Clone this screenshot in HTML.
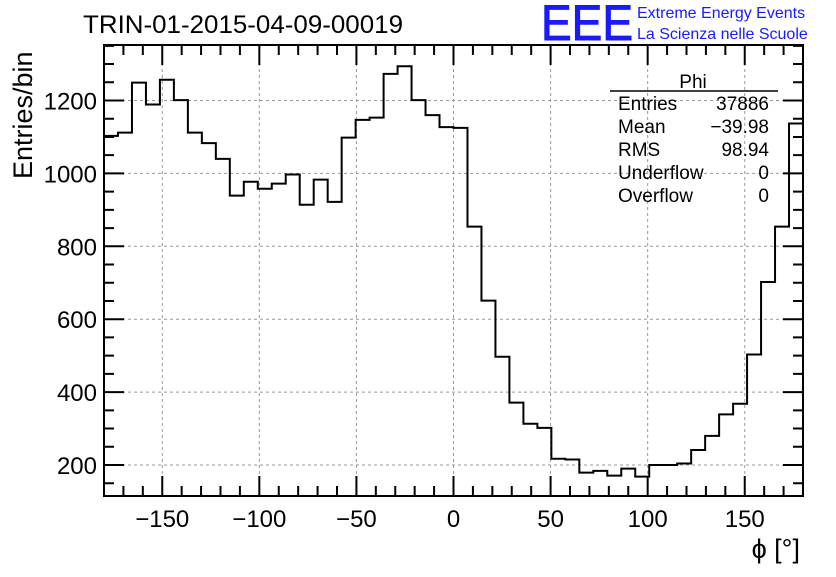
<!DOCTYPE html>
<html><head><meta charset="utf-8"><style>
body{margin:0;background:#fff;}
svg text{font-family:"Liberation Sans",sans-serif;}
</style></head><body>
<svg id="c" width="836" height="572" xmlns="http://www.w3.org/2000/svg">
<rect width="836" height="572" fill="#fff"/>
<text x="83" y="33" font-size="25" textLength="320" lengthAdjust="spacingAndGlyphs">TRIN-01-2015-04-09-00019</text>
<text x="541" y="40" font-size="50" fill="#1a1aff" stroke="#1a1aff" stroke-width="1" textLength="92" lengthAdjust="spacingAndGlyphs">EEE</text>
<text x="637" y="18" font-size="16" fill="#1a1aff">Extreme Energy Events</text>
<text x="637" y="39" font-size="16" fill="#1a1aff">La Scienza nelle Scuole</text>
<g id="grid"></g>
<g id="axes"></g>
<path id="hist" fill="none" stroke="#000" stroke-width="2"/>
<g>
<text x="693" y="88" font-size="19" text-anchor="middle">Phi</text>
<line x1="610" y1="91" x2="778" y2="91" stroke="#000" stroke-width="1.5"/>
<text x="618" y="110" font-size="19">Entries</text><text x="769" y="110" font-size="19" text-anchor="end">37886</text>
<text x="618" y="133" font-size="19">Mean</text><text x="769" y="133" font-size="19" text-anchor="end">−39.98</text>
<text x="618" y="156" font-size="19">RMS</text><text x="769" y="156" font-size="19" text-anchor="end">98.94</text>
<text x="618" y="179" font-size="19">Underflow</text><text x="769" y="179" font-size="19" text-anchor="end">0</text>
<text x="618" y="202" font-size="19">Overflow</text><text x="769" y="202" font-size="19" text-anchor="end">0</text>
</g>
<text transform="translate(32,179) rotate(-90)" font-size="27">Entries/bin</text>
<text x="800" y="558" font-size="27" text-anchor="end">ϕ [°]</text>
</svg>
<script>
const counts=[1103,1112,1249,1189,1257,1201,1112,1083,1040,939,977,958,972,997,914,983,922,1098,1147,1153,1273,1294,1201,1160,1127,1125,854,651,497,371,313,302,217,215,179,184,171,190,168,200,200,204,241,280,339,368,503,702,854,1137];
const xMin=-180, xMax=180;
const xTicks=[-150,-100,-50,0,50,100,150];
const yTicks=[200,400,600,800,1000,1200];
const L=104,R=803,T=45,B=496;
const X=v=>L+(v-xMin)/(xMax-xMin)*(R-L);
const Y=v=>465-(v-200)*0.3645;
const NS="http://www.w3.org/2000/svg";
function mk(tag,attrs,parent){const e=document.createElementNS(NS,tag);for(const k in attrs)e.setAttribute(k,attrs[k]);parent.appendChild(e);return e;}
const grid=document.getElementById('grid'),axes=document.getElementById('axes');
xTicks.forEach(t=>{
  const g=mk('line',{x1:X(t),x2:X(t),y1:T,y2:B,stroke:'#999','stroke-dasharray':'3,3','stroke-width':1},grid);
  
  
  const lb=mk('text',{x:X(t),y:527,'font-size':24,'text-anchor':'middle'},axes);
  lb.textContent=t<0?'−'+(-t):String(t);
  
  
});
yTicks.forEach(t=>{
  const g=mk('line',{x1:L,x2:R,y1:Y(t),y2:Y(t),stroke:'#999','stroke-dasharray':'3,3','stroke-width':1},grid);
  
  
  const lb=mk('text',{x:97,y:Y(t)+9,'font-size':24,'text-anchor':'end'},axes);
  lb.textContent=t;
  
  
});
let tk='';
for(let v=-180;v<=180;v+=10){const major=v%50===0;const len=major?20:10;const x=X(v);tk+=`M${x},${B}v${-len}M${x},${T}v${len}`;}
for(let v=150;v<=1350;v+=50){const y=Y(v);if(y<T||y>B)continue;const len=v%200===0?20:10;tk+=`M${L},${y}h${len}M${R},${y}h${-len}`;}
const ticks=mk('path',{d:tk,stroke:'#000','stroke-width':2,fill:'none'},axes);


const frame=mk('rect',{x:L,y:T,width:R-L,height:B-T,fill:'none',stroke:'#000','stroke-width':2},axes);


const w=(xMax-xMin)/counts.length;
let d='';
counts.forEach((c,i)=>{const x0=X(xMin+i*w),x1=X(xMin+(i+1)*w),y=Y(c);d+=(i===0?`M${x0},${y}`:`L${x0},${y}`)+`L${x1},${y}`;});
document.getElementById('hist').setAttribute('d',d);
</script>
</body></html>
